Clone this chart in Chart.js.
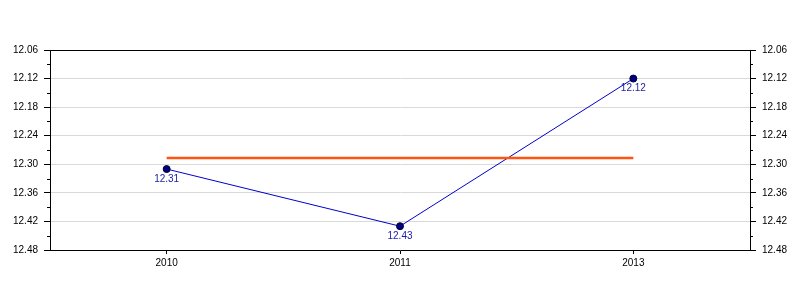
<!DOCTYPE html>
<html lang="en">
<head>
    <meta charset="UTF-8">
    <script src="https://cdn.jsdelivr.net/npm/chart.js"></script>
    <style>
        html, body { margin: 0; padding: 0; background: #fff; }
        #wrap { width: 800px; height: 300px; }
    </style>
</head>
<body>
    <div id="wrap">
        <canvas id="lineChart" width="800" height="300"></canvas>
    </div>

    <script>
        // chart data
        const years = ['2010', '2011', '2013'];
        const values = [12.31, 12.43, 12.12];
        const averageLine = [12.287, 12.287, 12.287];

        // y axis ticks (reversed scale, minors are unlabeled)
        const yMajorTicks = [12.06, 12.12, 12.18, 12.24, 12.30, 12.36, 12.42, 12.48];
        const yMinorTicks = [12.09, 12.15, 12.21, 12.27, 12.33, 12.39, 12.45];
        const yMin = 12.06;
        const yMax = 12.48;

        const fontFamily = '"Liberation Sans", Arial, sans-serif';

        function isMajor(v) {
            return yMajorTicks.some(t => Math.abs(t - v) < 0.0001);
        }

        function yScaleConfig(position, onChart) {
            return {
                type: 'linear',
                position: position,
                display: true,
                reverse: true,
                min: yMin,
                max: yMax,
                afterBuildTicks: (scale) => {
                    scale.ticks = yMajorTicks.concat(yMinorTicks)
                        .sort((a, b) => a - b)
                        .map(v => ({ value: v }));
                },
                afterFit: (scale) => { scale.width = 50; },
                border: { display: true, color: '#000', width: 1 },
                grid: {
                    drawOnChartArea: onChart,
                    color: (ctx) => isMajor(ctx.tick.value) ? '#d9d9d9' : 'rgba(0,0,0,0)',
                    tickColor: (ctx) => isMajor(ctx.tick.value) ? '#000' : 'rgba(0,0,0,0)',
                    tickLength: 6,
                    lineWidth: 1
                },
                ticks: {
                    color: '#000',
                    padding: 6,
                    autoSkip: false,
                    font: { family: fontFamily, size: 10 },
                    callback: (v) => isMajor(v) ? Number(v).toFixed(2) : ''
                }
            };
        }

        // draws frame top, minor ticks and the point labels
        const extras = {
            id: 'extras',
            afterDraw(chart) {
                const ctx = chart.ctx;
                const area = chart.chartArea;
                ctx.save();
                ctx.strokeStyle = '#000';
                ctx.lineWidth = 1;
                ctx.beginPath();
                ctx.moveTo(area.left - 6, Math.round(area.top) + 0.5);
                ctx.lineTo(area.right + 6, Math.round(area.top) + 0.5);
                ctx.stroke();

                ['y', 'y2'].forEach(id => {
                    const s = chart.scales[id];
                    yMinorTicks.forEach(v => {
                        const py = Math.round(s.getPixelForValue(v)) + 0.5;
                        ctx.beginPath();
                        if (id === 'y') {
                            ctx.moveTo(area.left - 3, py);
                            ctx.lineTo(area.left, py);
                        } else {
                            ctx.moveTo(area.right, py);
                            ctx.lineTo(area.right + 3, py);
                        }
                        ctx.stroke();
                    });
                });

                const meta = chart.getDatasetMeta(1);
                ctx.fillStyle = '#1a1aa6';
                ctx.font = '10px ' + fontFamily;
                ctx.textAlign = 'center';
                ctx.textBaseline = 'middle';
                meta.data.forEach((pt, i) => {
                    ctx.fillText(values[i].toFixed(2), pt.x, pt.y + 10);
                });
                ctx.restore();
            }
        };

        const ctxLine = document.getElementById('lineChart').getContext('2d');
        const lineChart = new Chart(ctxLine, {
            type: 'line',
            data: {
                labels: years,
                datasets: [{
                    label: 'Average',
                    data: averageLine,
                    borderColor: '#ff5511',
                    borderWidth: 2.5,
                    pointRadius: 0,
                    yAxisID: 'y'
                }, {
                    label: 'Value',
                    data: values,
                    borderColor: '#0000cc',
                    borderWidth: 1,
                    pointRadius: 3.5,
                    pointBackgroundColor: '#000080',
                    pointBorderColor: '#000033',
                    pointBorderWidth: 1,
                    tension: 0,
                    yAxisID: 'y'
                }]
            },
            options: {
                responsive: false,
                animation: false,
                layout: { padding: { top: 50, left: 0, right: 0, bottom: 0 } },
                plugins: {
                    legend: { display: false },
                    tooltip: { enabled: false }
                },
                scales: {
                    x: {
                        type: 'category',
                        offset: true,
                        afterFit: (scale) => { scale.height = 50; },
                        border: { display: true, color: '#000', width: 1 },
                        grid: {
                            offset: false,
                            drawOnChartArea: false,
                            tickColor: '#000',
                            tickLength: 4
                        },
                        ticks: {
                            color: '#000',
                            padding: 3,
                            font: { family: fontFamily, size: 10 }
                        }
                    },
                    y: yScaleConfig('left', true),
                    y2: yScaleConfig('right', false)
                }
            },
            plugins: [extras]
        });
    </script>
</body>
</html>
